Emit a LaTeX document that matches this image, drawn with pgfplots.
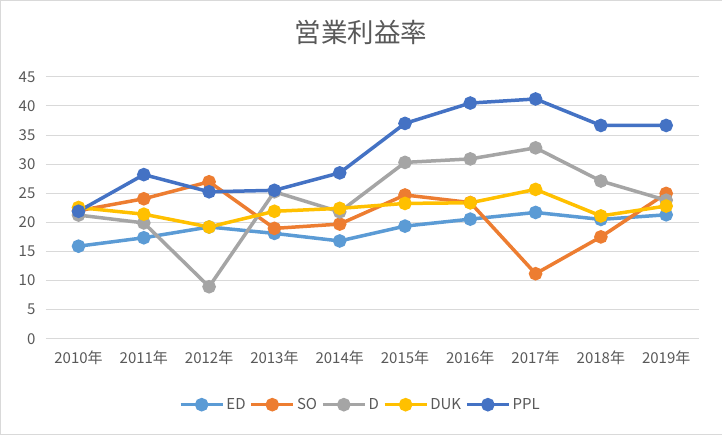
\documentclass[border=0pt]{standalone}
\usepackage{pgfplots}
\pgfplotsset{compat=1.18}
\usepackage{fontspec}
\setmainfont{Noto Sans CJK JP}

\definecolor{txtgray}{HTML}{595959}
\definecolor{gridgray}{HTML}{D9D9D9}
\definecolor{cED}{HTML}{5B9BD5}
\definecolor{cSO}{HTML}{ED7D31}
\definecolor{cD}{HTML}{A5A5A5}
\definecolor{cDUK}{HTML}{FFC000}
\definecolor{cPPL}{HTML}{4472C4}

\pgfplotsset{
  ser/.style={color=#1, line width=3.5pt, mark=*, mark size=5pt,
    mark options={solid, fill=#1, draw=none}},
}

\begin{document}
\begin{tikzpicture}
\draw[draw=black!15, fill=white] (0,0) rectangle (722pt,434pt);
\node[font=\fontsize{26.5}{30}\selectfont, text=txtgray] at (361pt,401.5pt) {営業利益率};
\begin{axis}[
  at={(45.7pt,95.3pt)}, anchor=south west,
  scale only axis, width=653.3pt, height=262pt,
  xmin=-0.5, xmax=9.5, ymin=0, ymax=45,
  xtick=data,
  xticklabels={2010年,2011年,2012年,2013年,2014年,2015年,2016年,2017年,2018年,2019年},
  ytick={0,5,...,45},
  ymajorgrids, grid style={gridgray, line width=1pt},
  axis line style={draw=none},
  major tick length=0pt,
  tick label style={font=\fontsize{15}{18}\selectfont, text=txtgray},
  /pgf/number format/assume math mode=true,
  yticklabel style={xshift=-7pt},
  xticklabel style={yshift=-9pt},
  clip=false,
  legend style={at={(0.5,0)}, anchor=center, yshift=-66pt, xshift=-12pt, draw=none,
    font=\fontsize{15}{18}\selectfont, text=txtgray,
    /tikz/every odd column/.append style={column sep=0pt},
    /tikz/every even column/.append style={column sep=2pt}},
  legend columns=-1,
  legend image code/.code={\draw[mark repeat=2, mark phase=2, #1]
    plot coordinates {(0pt,0pt) (21pt,0pt) (42pt,0pt)};},
]
\addplot[ser=cED] coordinates {(0,15.9) (1,17.35) (2,19.2) (3,18.1) (4,16.8) (5,19.35) (6,20.55) (7,21.7) (8,20.5) (9,21.3)};
\addlegendentry{ED}
\addplot[ser=cSO] coordinates {(0,22.0) (1,24.05) (2,26.97) (3,18.96) (4,19.7) (5,24.7) (6,23.4) (7,11.17) (8,17.5) (9,24.97)};
\addlegendentry{SO}
\addplot[ser=cD] coordinates {(0,21.25) (1,19.9) (2,8.93) (3,25.25) (4,21.8) (5,30.3) (6,30.9) (7,32.8) (8,27.1) (9,23.8)};
\addlegendentry{D}
\addplot[ser=cDUK] coordinates {(0,22.55) (1,21.4) (2,19.2) (3,21.9) (4,22.4) (5,23.25) (6,23.36) (7,25.66) (8,21.1) (9,22.8)};
\addlegendentry{DUK}
\addplot[ser=cPPL] coordinates {(0,21.9) (1,28.2) (2,25.25) (3,25.5) (4,28.5) (5,37.0) (6,40.5) (7,41.2) (8,36.65) (9,36.65)};
\addlegendentry{PPL}
\end{axis}
\end{tikzpicture}
\end{document}
